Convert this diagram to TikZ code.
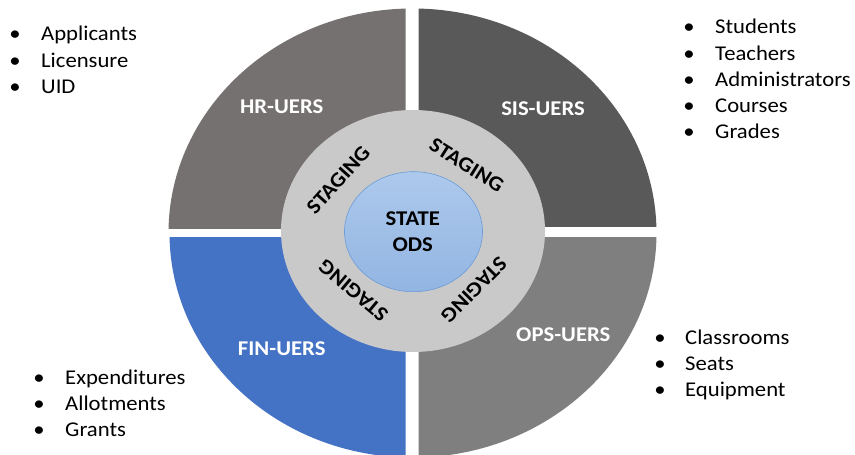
\documentclass[tikz,border=0pt]{standalone}
\usepackage{fontspec}
\setmainfont{Carlito}[FakeStretch=1.08]
\definecolor{hrc}{HTML}{767171}
\definecolor{sisc}{HTML}{595959}
\definecolor{opsc}{HTML}{7F7F7F}
\definecolor{finc}{HTML}{4472C4}
\definecolor{ringc}{HTML}{C9C9C9}
\definecolor{odstop}{HTML}{ADC9EC}
\definecolor{odsbot}{HTML}{92B5E2}
\definecolor{odsline}{HTML}{6A9BD8}
\begin{document}
\begin{tikzpicture}[x=1pt,y=-1pt,
  quadlabel/.style={inner sep=0pt,text=white,font=\fontsize{21}{25}\selectfont\bfseries},
  staginglbl/.style={inner sep=0pt,text=black,font=\fontsize{21}{25}\selectfont\bfseries},
  odslbl/.style={inner sep=0pt,text=black,font=\fontsize{21}{25}\selectfont\bfseries},
  itemtxt/.style={inner sep=0pt,anchor=base west,text=black,font=\fontsize{21}{25}\selectfont},
  bulletdot/.style={inner sep=0pt,anchor=base,text=black,font=\fontsize{21}{25}\selectfont}]
\useasboundingbox (0,0) rectangle (855,455);
\fill[white] (0,0) rectangle (855,455);
% quadrants
\begin{scope}
  \clip (160,0) rectangle (405.7,228.3);
  \fill[hrc] (412.5,233) ellipse [x radius=244pt, y radius=224.5pt];
\end{scope}
\begin{scope}
  \clip (418.7,0) rectangle (700,226.8);
  \fill[sisc] (412.5,233) ellipse [x radius=244pt, y radius=224.5pt];
\end{scope}
\begin{scope}
  \clip (160,237.3) rectangle (405.7,455);
  \fill[finc] (412.5,233) ellipse [x radius=243pt, y radius=224.5pt];
\end{scope}
\begin{scope}
  \clip (418.7,237.3) rectangle (700,455);
  \fill[opsc] (412.5,233) ellipse [x radius=244pt, y radius=224.5pt];
\end{scope}
% staging ring
\fill[ringc] (413,231) ellipse [x radius=132pt, y radius=121pt];
% ODS core
\shade[top color=odstop,bottom color=odsbot,draw=odsline,line width=0.6pt]
  (413.5,231.7) ellipse [x radius=69pt, y radius=60pt];
% quadrant labels
\node[quadlabel] (hr) at (281.7,106.7) {HR-UERS};
\node[quadlabel] (sis) at (543,108.8) {SIS-UERS};
\node[quadlabel] (fin) at (281.7,348.5) {FIN-UERS};
\node[quadlabel] (ops) at (563.3,335) {OPS-UERS};
% core label
\node[odslbl] (state) at (412.7,218.5) {STATE};
\node[odslbl] (ods) at (412.7,244.3) {ODS};
% staging labels
\node[staginglbl,rotate=48] (stl) at (338.3,180) {STAGING};
\node[staginglbl,rotate=-32] (str) at (466.7,165) {STAGING};
\node[staginglbl,rotate=140] (sbl) at (353.3,290.7) {STAGING};
\node[staginglbl,rotate=225] (sbr) at (474,290) {STAGING};
% top-left list
\node[bulletdot] (b1) at (15,40.5) {•};
\node[itemtxt] (t1) at (41,40.5) {Applicants};
\node[bulletdot] (b2) at (15,67) {•};
\node[itemtxt] (t2) at (41,67) {Licensure};
\node[bulletdot] (b3) at (15,93) {•};
\node[itemtxt] (t3) at (41,93) {UID};
% top-right list
\node[bulletdot] (b4) at (689,33.7) {•};
\node[itemtxt] (t4) at (715,33.7) {Students};
\node[bulletdot] (b5) at (689,60.3) {•};
\node[itemtxt] (t5) at (715,60.3) {Teachers};
\node[bulletdot] (b6) at (689,86.5) {•};
\node[itemtxt] (t6) at (715,86.5) {Administrators};
\node[bulletdot] (b7) at (689,112.3) {•};
\node[itemtxt] (t7) at (715,112.3) {Courses};
\node[bulletdot] (b8) at (689,138.3) {•};
\node[itemtxt] (t8) at (715,138.3) {Grades};
% bottom-left list
\node[bulletdot] (b9) at (39,384) {•};
\node[itemtxt] (t9) at (65,384) {Expenditures};
\node[bulletdot] (b10) at (39,410) {•};
\node[itemtxt] (t10) at (65,410) {Allotments};
\node[bulletdot] (b11) at (39,436) {•};
\node[itemtxt] (t11) at (65,436) {Grants};
% bottom-right list
\node[bulletdot] (b12) at (660,344) {•};
\node[itemtxt] (t12) at (685,344) {Classrooms};
\node[bulletdot] (b13) at (660,370) {•};
\node[itemtxt] (t13) at (685,370) {Seats};
\node[bulletdot] (b14) at (660,396) {•};
\node[itemtxt] (t14) at (685,396) {Equipment};
\end{tikzpicture}
\end{document}
